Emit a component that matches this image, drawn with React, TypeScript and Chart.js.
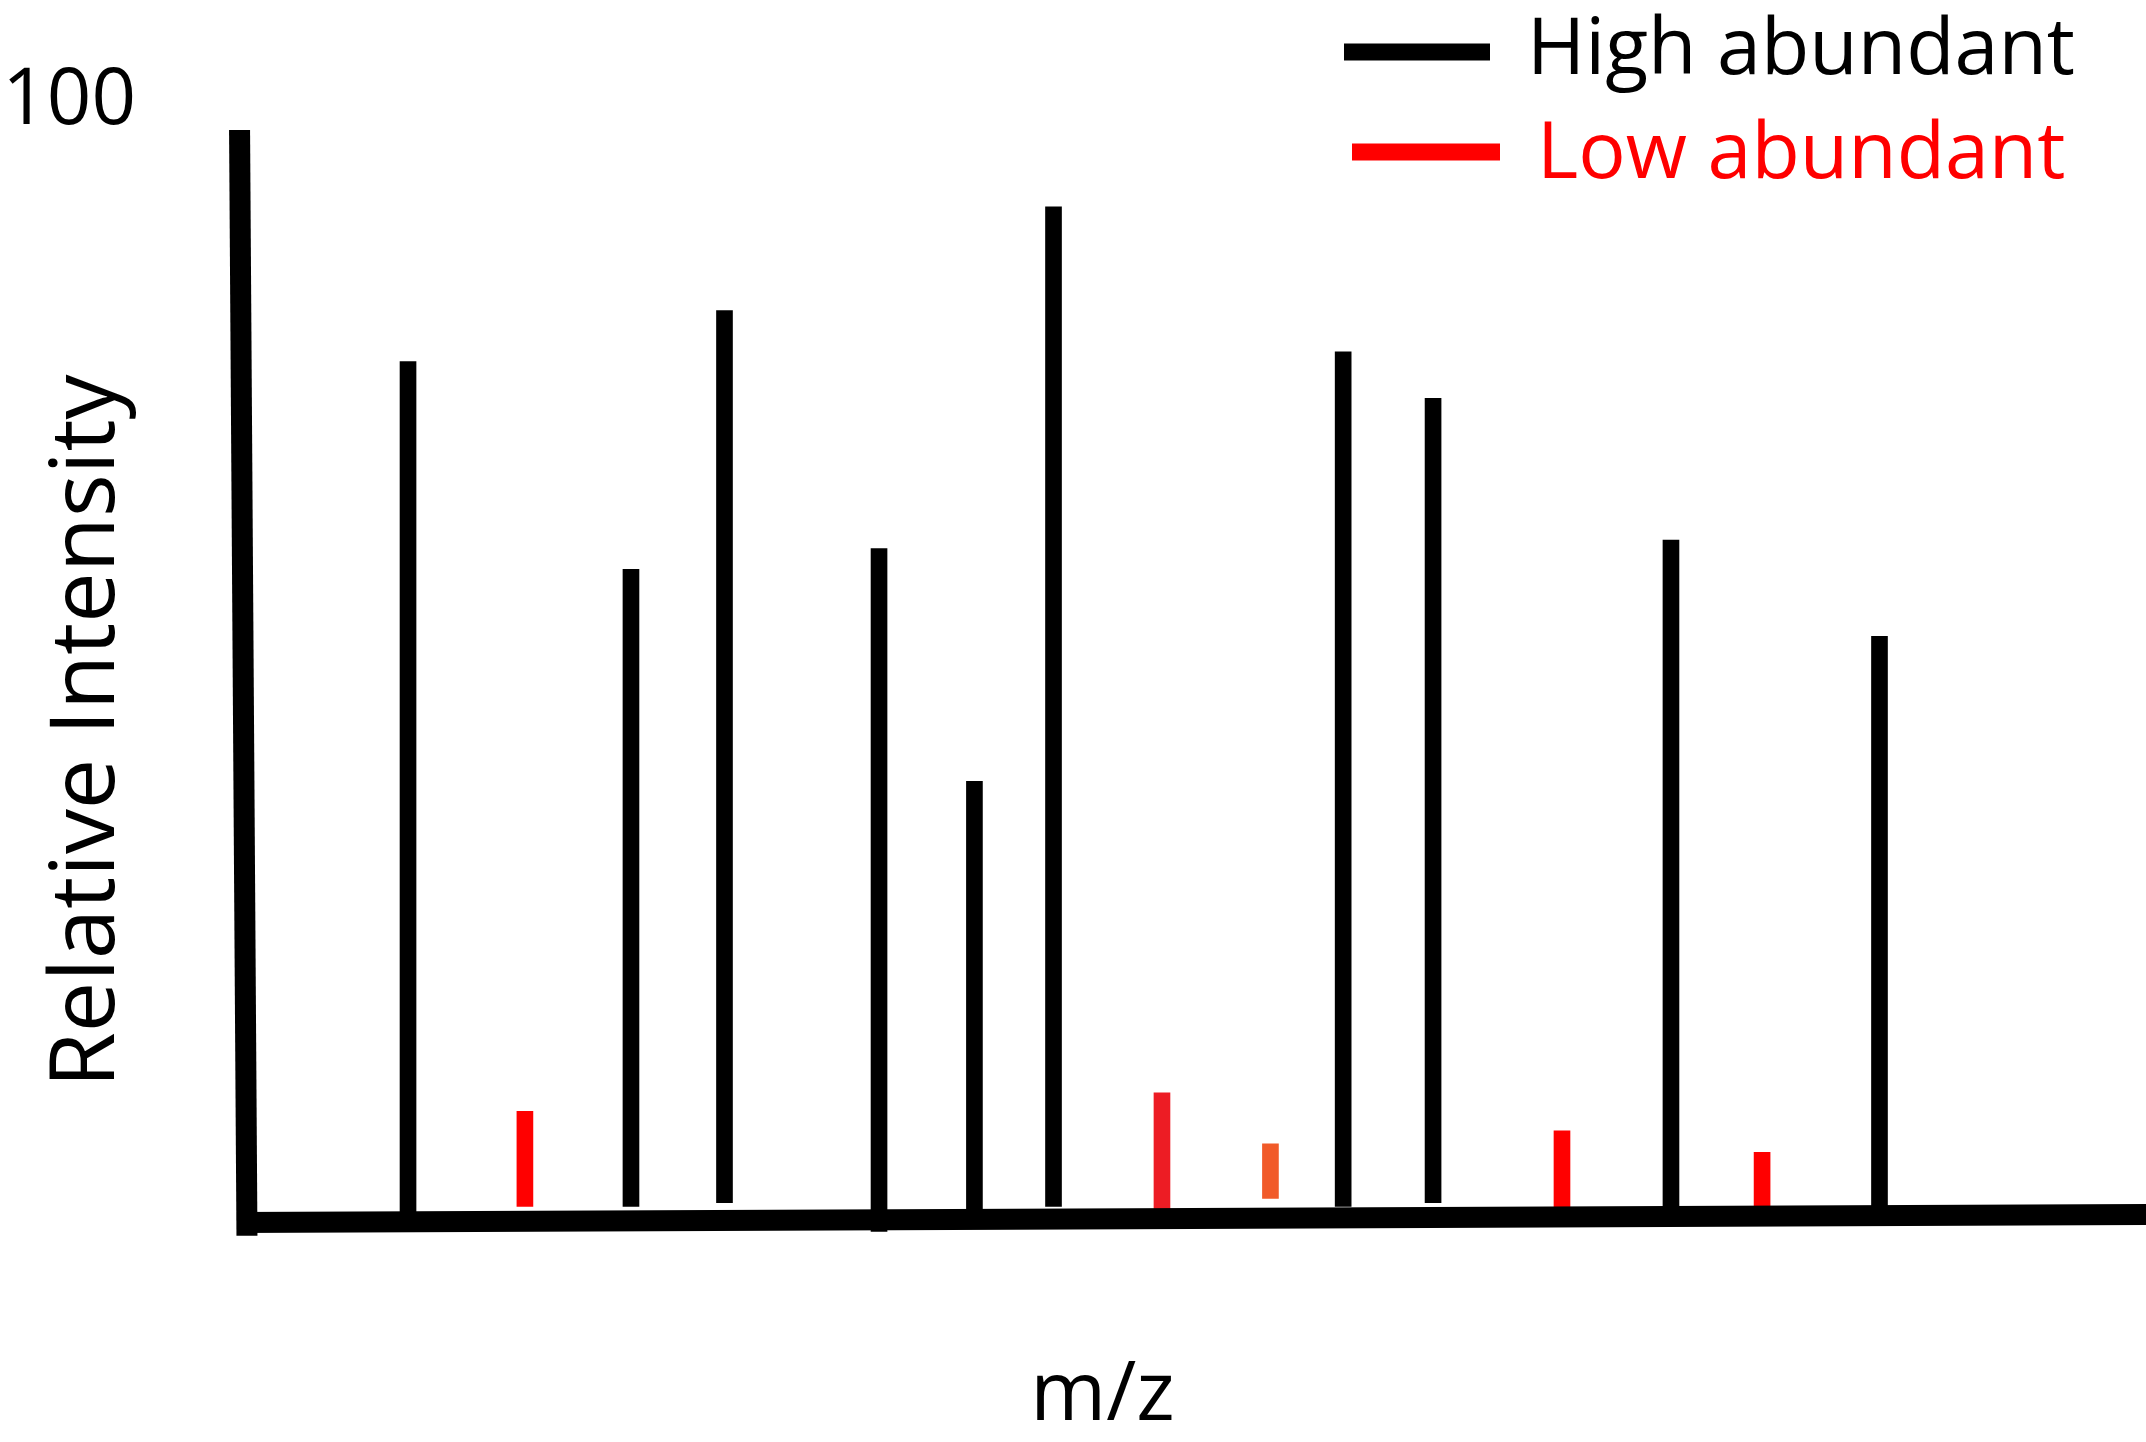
import React, { useEffect, useRef } from 'react';
import { Chart, registerables } from 'chart.js';

Chart.register(...registerables);

// ---- data (m/z positions, relative intensities) ----
const highMz = [96, 225.7, 280.1, 370, 425.5, 471.5, 640, 692.3, 830.7, 952];
const highTop = [78.6, 59.4, 83.3, 61.3, 39.8, 92.9, 79.5, 75.2, 62.1, 53.2];
const highBase = [0, 0.5, 0.85, -1.8, 0, 0.5, 0.5, 0.85, 0, 0];

const lowMz = [164, 534.6, 597.7, 767.3, 883.7];
const lowTop = [9.3, 11.0, 6.3, 7.5, 5.5];
const lowBase = [0.5, 0.3, 1.25, 0, 0];
const lowColors = ['#FF0000', '#ED1C24', '#F15A29', '#FF0000', '#FF0000'];

const seriesLabels = ['High abundant', 'Low abundant'];
const yTickValues = [100];
const xAxisTitle = 'm/z';
const yAxisTitle = 'Relative Intensity';

// hand-drawn axis strokes, in data units
const yAxisLine = [
  { x: -2.0, y: 100 },
  { x: 2.3, y: -2.2 },
];
const xAxisLine = [
  { x: -3.5, y: -0.97 },
  { x: 1110, y: -0.23 },
];

// ---- styles ----
const FONT = 'Open Sans';
const LEGEND = [
  { color: '#000000', textColor: '#000000', x0: 1344, x1: 1490, y: 52, tx: 1527, ty: 74 },
  { color: '#FF0000', textColor: '#FF0000', x0: 1352, x1: 1500, y: 152, tx: 1537, ty: 178 },
];

const cornerLegend = {
  id: 'cornerLegend',
  afterDraw(chart: any) {
    const ctx = chart.ctx as CanvasRenderingContext2D;
    ctx.save();
    seriesLabels.forEach((label, i) => {
      const s = LEGEND[i];
      ctx.strokeStyle = s.color;
      ctx.lineWidth = 17;
      ctx.lineCap = 'butt';
      ctx.beginPath();
      ctx.moveTo(s.x0, s.y);
      ctx.lineTo(s.x1, s.y);
      ctx.stroke();
      ctx.fillStyle = s.textColor;
      ctx.font = `79px "${FONT}"`;
      ctx.textAlign = 'left';
      ctx.textBaseline = 'alphabetic';
      ctx.fillText(label, s.tx, s.ty);
    });
    ctx.restore();
  },
};

export default function App() {
  const ref = useRef<HTMLCanvasElement>(null);

  useEffect(() => {
    document.body.style.margin = '0';
    const canvas = ref.current;
    if (!canvas) return;

    const chart = new Chart(canvas, {
      type: 'bar',
      data: {
        datasets: [
          {
            type: 'bar',
            label: seriesLabels[0],
            data: highMz.map((x, i) => ({ x, y: [highBase[i], highTop[i]] })) as any,
            backgroundColor: '#000000',
            borderWidth: 0,
            barThickness: 16,
            grouped: false,
            order: 2,
          } as any,
          {
            type: 'bar',
            label: seriesLabels[1],
            data: lowMz.map((x, i) => ({ x, y: [lowBase[i], lowTop[i]] })) as any,
            backgroundColor: lowColors,
            borderWidth: 0,
            barThickness: 16,
            grouped: false,
            order: 2,
          } as any,
          {
            type: 'line',
            label: 'y-axis',
            data: yAxisLine,
            borderColor: '#000000',
            borderWidth: 21,
            borderCapStyle: 'butt',
            pointRadius: 0,
            tension: 0,
            clip: false,
            order: 0,
          } as any,
          {
            type: 'line',
            label: 'x-axis',
            data: xAxisLine,
            borderColor: '#000000',
            borderWidth: 21,
            borderCapStyle: 'butt',
            pointRadius: 0,
            tension: 0,
            clip: false,
            order: 0,
          } as any,
        ],
      },
      options: {
        responsive: false,
        animation: false,
        devicePixelRatio: 1,
        layout: { padding: { top: 130, right: 184, left: 0, bottom: 0 } },
        plugins: {
          legend: { display: false },
          tooltip: { enabled: false },
        },
        scales: {
          x: {
            type: 'linear',
            min: 0,
            max: 1000,
            offset: false,
            grid: { display: false, drawTicks: false },
            border: { display: false },
            ticks: { display: false },
            title: {
              display: true,
              text: xAxisTitle,
              color: '#000000',
              font: { family: FONT, size: 82, lineHeight: 1 },
              padding: { top: 0, bottom: 4 },
            },
            afterFit: (s: any) => {
              s.height = 110;
              s.paddingLeft = 0;
              s.paddingRight = 0;
            },
          },
          y: {
            type: 'linear',
            min: -11.1,
            max: 100,
            grid: { display: false, drawTicks: false },
            border: { display: false },
            ticks: {
              color: '#000000',
              font: { family: FONT, size: 78 },
              padding: 107,
              labelOffset: -28,
            },
            afterBuildTicks: (s: any) => {
              s.ticks = yTickValues.map((v) => ({ value: v }));
            },
            title: {
              display: true,
              text: yAxisTitle,
              color: '#000000',
              font: { family: FONT, size: 90, lineHeight: 1 },
              padding: { top: 43, bottom: 0 },
            },
            afterFit: (s: any) => {
              s.width = 243;
              s.paddingTop = 0;
              s.paddingBottom = 0;
            },
          },
        },
      } as any,
      plugins: [cornerLegend],
    });

    return () => chart.destroy();
  }, []);

  return (
    <canvas
      ref={ref}
      width={2146}
      height={1442}
      style={{ display: 'block', width: '2146px', height: '1442px' }}
    />
  );
}
